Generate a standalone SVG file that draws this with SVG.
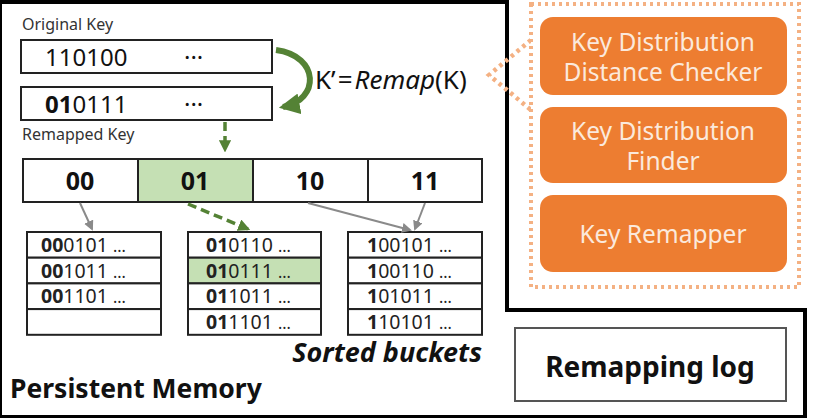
<svg xmlns="http://www.w3.org/2000/svg" width="818" height="418" viewBox="0 0 818 418">
<defs>
<style>
text{font-family:"Noto Sans","Open Sans","Liberation Sans",sans-serif;fill:#111}
.box{fill:#fff;stroke:#222;stroke-width:2}
.lbl{font-size:16px;fill:#333}
.key{font-size:24px}
.cell{font-size:25px;font-weight:bold;text-anchor:middle}
.bk{font-size:19.5px;fill:#222}
.d{font-size:16px}
.b{font-weight:bold}
.orange{fill:#ED7D31;stroke:none}
.otxt{font-size:24.5px;fill:#FBE9DC;text-anchor:middle}
.gray{stroke:#8a8a8a;stroke-width:2;fill:none}
.gdash{stroke:#548235;stroke-width:3.5;fill:none;stroke-dasharray:9 5}
</style>
<marker id="ag" viewBox="0 0 10 10" refX="8" refY="5" markerWidth="5" markerHeight="5" orient="auto"><path d="M0,0 L10,5 L0,10 z" fill="#8a8a8a"/></marker>
<marker id="agr" viewBox="0 0 10 10" refX="8" refY="5" markerWidth="3.5" markerHeight="3.5" orient="auto"><path d="M0,0 L10,5 L0,10 z" fill="#548235"/></marker>
</defs>
<rect width="818" height="418" fill="#fff"/>
<g id="pm-border">
<polygon points="0,2 507,2 507,310 805,310 805,417 0,417 0,2" fill="none" stroke="#000" stroke-width="4"/>
<text x="10" y="398" style="font-size:26.5px;font-weight:bold">Persistent Memory</text>
</g>
<g id="original-key">
<text class="lbl" x="22" y="30">Original Key</text>
<rect class="box" x="21" y="40" width="251" height="33"/>
<text class="key" x="45" y="66">110100</text>
<text class="key" x="184" y="66">···</text>
</g>
<g id="remapped-key">
<rect class="box" x="21" y="87" width="251" height="33"/>
<text class="key" x="45" y="113"><tspan class="b">01</tspan>0111</text>
<text class="key" x="184" y="113">···</text>
<text class="lbl" x="22" y="140">Remapped Key</text>
</g>
<g id="remap-formula">
<text x="315" y="89" style="font-size:26px">K’<tspan dx="2">=</tspan><tspan dx="2" font-style="italic">Remap</tspan>(K)</text>
</g>
<g id="hash-table">
<rect class="box" x="23" y="159" width="115" height="43"/>
<rect x="138" y="159" width="115" height="43" fill="#C5E0B4" stroke="#222" stroke-width="2"/>
<rect class="box" x="253" y="159" width="115" height="43"/>
<rect class="box" x="368" y="159" width="114" height="43"/>
<text class="cell" x="80" y="190">00</text>
<text class="cell" x="195" y="190">01</text>
<text class="cell" x="310" y="190">10</text>
<text class="cell" x="425" y="190">11</text>
</g>
<g id="bucket-00">
<rect class="box" x="27" y="232" width="134" height="25.7"/>
<rect class="box" x="27" y="257.7" width="134" height="25.7"/>
<rect class="box" x="27" y="283.4" width="134" height="25.7"/>
<rect class="box" x="27" y="309.1" width="134" height="25.7"/>
<text class="bk" x="41" y="252"><tspan class="b">00</tspan>0101 <tspan class="d">...</tspan></text>
<text class="bk" x="41" y="277.7"><tspan class="b">00</tspan>1011 <tspan class="d">...</tspan></text>
<text class="bk" x="41" y="303.4"><tspan class="b">00</tspan>1101 <tspan class="d">...</tspan></text>
</g>
<g id="bucket-01">
<rect class="box" x="188" y="232" width="133" height="25.7"/>
<rect x="188" y="257.7" width="133" height="25.7" fill="#C5E0B4" stroke="#222" stroke-width="2"/>
<rect class="box" x="188" y="283.4" width="133" height="25.7"/>
<rect class="box" x="188" y="309.1" width="133" height="25.7"/>
<text class="bk" x="206" y="252"><tspan class="b">01</tspan>0110 <tspan class="d">...</tspan></text>
<text class="bk" x="206" y="277.7"><tspan class="b">01</tspan>0111 <tspan class="d">...</tspan></text>
<text class="bk" x="206" y="303.4"><tspan class="b">01</tspan>1011 <tspan class="d">...</tspan></text>
<text class="bk" x="206" y="329"><tspan class="b">01</tspan>1101 <tspan class="d">...</tspan></text>
</g>
<g id="bucket-1x">
<rect class="box" x="348" y="232" width="134" height="25.7"/>
<rect class="box" x="348" y="257.7" width="134" height="25.7"/>
<rect class="box" x="348" y="283.4" width="134" height="25.7"/>
<rect class="box" x="348" y="309.1" width="134" height="25.7"/>
<text class="bk" x="367" y="252"><tspan class="b">1</tspan>00101 <tspan class="d">...</tspan></text>
<text class="bk" x="367" y="277.7"><tspan class="b">1</tspan>00110 <tspan class="d">...</tspan></text>
<text class="bk" x="367" y="303.4"><tspan class="b">1</tspan>01011 <tspan class="d">...</tspan></text>
<text class="bk" x="367" y="329"><tspan class="b">1</tspan>10101 <tspan class="d">...</tspan></text>
<text x="482" y="362" text-anchor="end" style="font-size:27px;font-weight:bold;font-style:italic">Sorted buckets</text>
</g>
<g id="connectors">
<path d="M276,50 C320,56 320,100 283,107" stroke="#548235" stroke-width="6" fill="none" marker-end="url(#agr)"/>
<path class="gdash" d="M225,122 L225,150" marker-end="url(#agr)"/>
<path class="gdash" d="M188,204 L248,229" marker-end="url(#agr)"/>
<path class="gray" d="M80,203 L92,229" marker-end="url(#ag)"/>
<path class="gray" d="M308,203 L410,230" marker-end="url(#ag)"/>
<path class="gray" d="M425,203 L415,229" marker-end="url(#ag)"/>
<path d="M531,40 L489,75 L531,110" fill="none" stroke="#F4B183" stroke-width="4.5" stroke-dasharray="3.5 4"/>
</g>
<g id="tool-frame">
<rect x="531" y="4" width="268" height="283" fill="#fff" stroke="#F4B183" stroke-width="4" stroke-dasharray="3 4"/>
</g>
<g id="kdd-checker">
<rect class="orange" x="540" y="17" width="247" height="78" rx="13"/>
<text class="otxt" x="663" y="51">Key Distribution</text>
<text class="otxt" x="663" y="81">Distance Checker</text>
</g>
<g id="kd-finder">
<rect class="orange" x="540" y="107" width="247" height="76" rx="13"/>
<text class="otxt" x="663" y="140">Key Distribution</text>
<text class="otxt" x="663" y="170">Finder</text>
</g>
<g id="key-remapper">
<rect class="orange" x="540" y="195" width="247" height="77" rx="13"/>
<text class="otxt" x="663" y="243">Key Remapper</text>
</g>
<g id="remapping-log">
<rect x="515" y="328" width="271" height="73" fill="#fff" stroke="#555" stroke-width="2"/>
<text x="650" y="377" text-anchor="middle" style="font-size:28px;font-weight:bold">Remapping log</text>
</g>
</svg>
